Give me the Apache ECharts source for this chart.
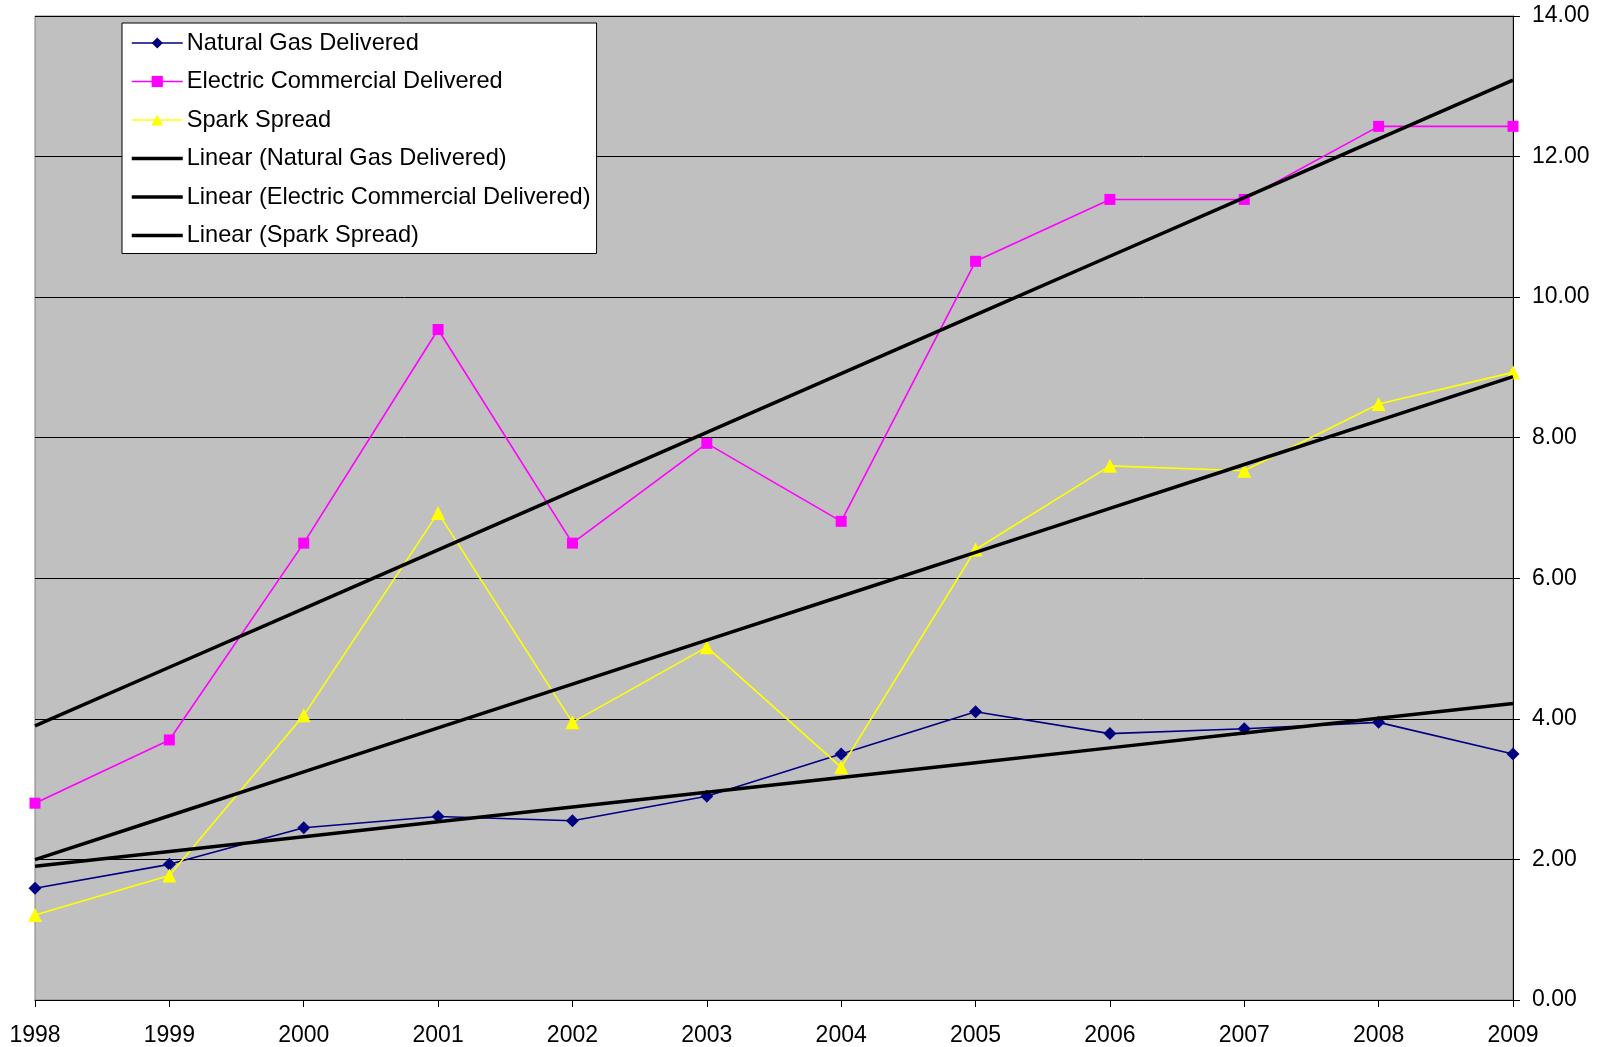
<!DOCTYPE html>
<html>
<head>
<meta charset="utf-8">
<script src="https://cdn.jsdelivr.net/npm/echarts@6/dist/echarts.min.js"></script>
<style>
html,body{margin:0;padding:0;background:#fff;}
#chart{width:1606px;height:1047px;}
</style>
</head>
<body>
<div id="chart"></div>
<script>
const years = ['1998','1999','2000','2001','2002','2003','2004','2005','2006','2007','2008','2009'];
const naturalGas = [1.59, 1.93, 2.45, 2.61, 2.55, 2.90, 3.50, 4.10, 3.79, 3.86, 3.95, 3.50];
const electricCommercial = [2.80, 3.70, 6.50, 9.54, 6.50, 7.92, 6.81, 10.51, 11.39, 11.39, 12.43, 12.43];
const sparkSpread = [1.21, 1.77, 4.05, 6.93, 3.95, 5.02, 3.31, 6.41, 7.60, 7.53, 8.48, 8.93];
const yTicks = [0, 2, 4, 6, 8, 10, 12, 14];

// Excel-style linear trendline (least squares) over the series points
function linearTrend(vals) {
  const n = vals.length;
  let sx = 0, sy = 0, sxy = 0, sxx = 0;
  vals.forEach((v, i) => { sx += i; sy += v; sxy += i * v; sxx += i * i; });
  const b = (n * sxy - sx * sy) / (n * sxx - sx * sx);
  const a = (sy - b * sx) / n;
  return vals.map((v, i) => +(a + b * i).toFixed(4));
}

const FONT = '"Liberation Sans", Arial, sans-serif';
const chart = echarts.init(document.getElementById('chart'), null, {renderer: 'canvas'});

function dataSeries(name, data, color, symbol, size) {
  return {
    name, type: 'line', data,
    symbol, symbolSize: size,
    lineStyle: {color, width: 1.6},
    itemStyle: {color, borderWidth: 0},
    z: 3, animation: false
  };
}
function trendSeries(name, data) {
  return {
    name, type: 'line', data: linearTrend(data),
    symbol: 'none', showSymbol: false,
    lineStyle: {color: '#000', width: 3.5},
    itemStyle: {color: '#000'},
    z: 4, animation: false
  };
}

const names = ['Natural Gas Delivered', 'Electric Commercial Delivered', 'Spark Spread',
  'Linear (Natural Gas Delivered)', 'Linear (Electric Commercial Delivered)', 'Linear (Spark Spread)'];

chart.setOption({
  animation: false,
  backgroundColor: '#fff',
  grid: {
    left: 35, right: 93, top: 16, bottom: 47,
    show: true, backgroundColor: '#c0c0c0', borderColor: '#808080', borderWidth: 1
  },
  legend: {
    orient: 'vertical',
    left: 122, top: 23,
    padding: [8, 6, 6, 8],
    backgroundColor: '#fff',
    borderColor: '#000', borderWidth: 1,
    itemWidth: 51, itemHeight: 14, itemGap: 14.5,
    textStyle: {fontFamily: FONT, fontSize: 23.6, color: '#000', lineHeight: 22, padding: [0, 0, 0, -1]},
    data: names.map((n, i) => i < 3
      ? {name: n, lineStyle: {width: 1.5}}
      : {name: n, lineStyle: {width: 3.5, color: '#000'}, itemStyle: {opacity: 0}})
  },
  xAxis: {
    type: 'category', data: years, boundaryGap: false,
    axisLine: {show: true, lineStyle: {color: '#000', width: 1}},
    axisTick: {show: true, length: 7, lineStyle: {color: '#000'}},
    axisLabel: {fontFamily: FONT, fontSize: 23, color: '#000', margin: 24},
    splitLine: {show: false}
  },
  yAxis: {
    type: 'value', position: 'right', min: 0, max: 14, interval: 2,
    axisLine: {show: true, lineStyle: {color: '#000', width: 1}},
    axisTick: {show: true, length: 7, lineStyle: {color: '#000'}},
    axisLabel: {fontFamily: FONT, fontSize: 23, color: '#000', margin: 19,
      formatter: v => yTicks.includes(v) ? v.toFixed(2) : ''},
    splitLine: {show: true, lineStyle: {color: '#000', width: 1}}
  },
  series: [
    dataSeries(names[0], naturalGas, '#000080', 'diamond', 13),
    dataSeries(names[1], electricCommercial, '#ff00ff', 'rect', 11),
    dataSeries(names[2], sparkSpread, '#ffff00', 'triangle', 14),
    trendSeries(names[3], naturalGas),
    trendSeries(names[4], electricCommercial),
    trendSeries(names[5], sparkSpread)
  ]
});
</script>
</body>
</html>
